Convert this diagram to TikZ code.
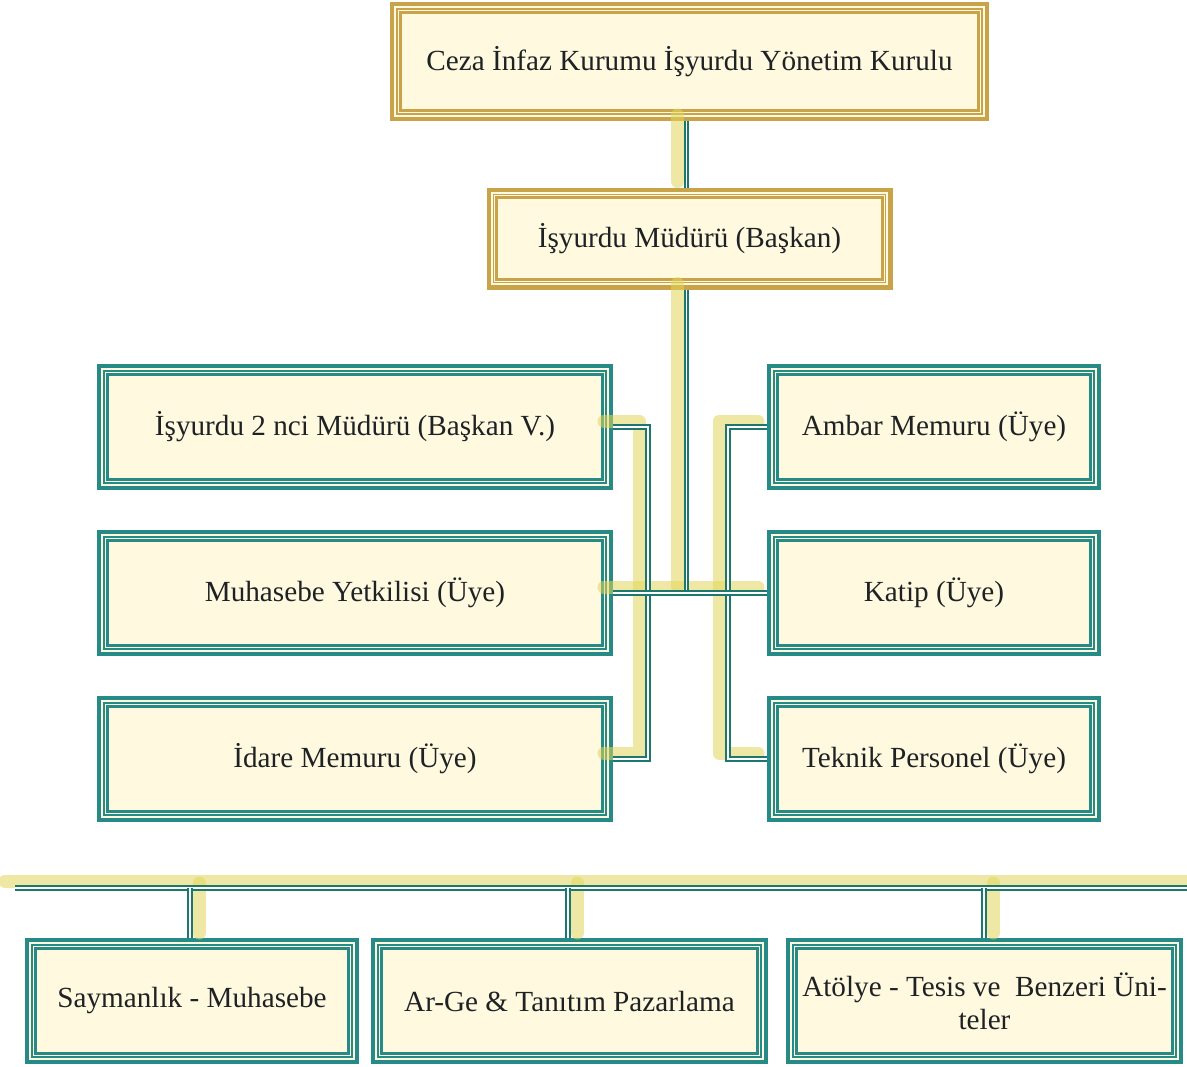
\documentclass[tikz,border=0pt]{standalone}
\usepackage{fontspec}
\setmainfont{Liberation Serif}
\definecolor{boxfill}{RGB}{255,249,224}
\definecolor{tealline}{RGB}{38,138,134}
\definecolor{linkteal}{RGB}{28,120,110}
\definecolor{goldline}{RGB}{201,163,74}
\definecolor{glowyel}{RGB}{226,214,90}
\definecolor{textdark}{RGB}{30,34,36}

\begin{document}
\begin{tikzpicture}[x=0.5pt,y=-0.5pt,node distance=83pt]
  {
    \tikzstyle{box}=[rectangle,fill=boxfill,line width=2.2pt,inner sep=0pt,text=textdark,
      font=\fontsize{14.6}{17.5}\selectfont,align=center]
    \tikzstyle{tealbox}=[box,draw=tealline,path picture={
        \draw[tealline,line width=0.6pt] ([shift={(2.4pt,-2.4pt)}]path picture bounding box.north west)
          rectangle ([shift={(-2.4pt,2.4pt)}]path picture bounding box.south east);
        \draw[tealline,line width=1.4pt] ([shift={(4pt,-4pt)}]path picture bounding box.north west)
          rectangle ([shift={(-4pt,4pt)}]path picture bounding box.south east);}]
    \tikzstyle{goldbox}=[box,draw=goldline,path picture={
        \draw[goldline,line width=0.6pt] ([shift={(2.4pt,-2.4pt)}]path picture bounding box.north west)
          rectangle ([shift={(-2.4pt,2.4pt)}]path picture bounding box.south east);
        \draw[goldline,line width=1.4pt] ([shift={(4pt,-4pt)}]path picture bounding box.north west)
          rectangle ([shift={(-4pt,4pt)}]path picture bounding box.south east);}]
    \tikzstyle{leftbox}=[tealbox,minimum width=255.8pt,minimum height=60.8pt]
    \tikzstyle{rightbox}=[tealbox,minimum width=164.8pt,minimum height=60.8pt]
    \tikzstyle{link}=[draw=linkteal,double=white,line width=0.95pt,double distance=0.8pt]
    \tikzstyle{glowline}=[draw=glowyel,opacity=0.55,line width=6.5pt,line cap=round,line join=round]

    \useasboundingbox (0,0) rectangle (1187,1066);

    % top of the chart
    \node [goldbox,minimum width=297.3pt,minimum height=57.3pt] (kurul) at (689.5,61.5)
      {Ceza İnfaz Kurumu İşyurdu Yönetim Kurulu};
    \node [goldbox,minimum width=200.8pt,minimum height=48.8pt] (mudur) [below of=kurul,yshift=-5.5pt]
      {İşyurdu Müdürü (Başkan)};

    % members
    \node [leftbox] (muhasebe) at (355,593) {Muhasebe Yetkilisi (Üye)};
    \node [leftbox] (yardimci) [above of=muhasebe] {İşyurdu 2 nci Müdürü (Başkan V.)};
    \node [leftbox] (idare) [below of=muhasebe] {İdare Memuru (Üye)};
    \node [rightbox] (katip) at (934,593) {Katip (Üye)};
    \node [rightbox] (ambar) [above of=katip] {Ambar Memuru (Üye)};
    \node [rightbox] (teknik) [below of=katip] {Teknik Personel (Üye)};

    % units
    \node [tealbox,minimum width=164.8pt,minimum height=60.8pt] (sayman) at (192,1001)
      {Saymanlık - Muhasebe};
    \node [tealbox,minimum width=196.3pt,minimum height=60.8pt] (arge) at (569.5,1001)
      {Ar-Ge \& Tanıtım Pazarlama};
    \node [tealbox,minimum width=196.3pt,minimum height=60.8pt] (atolye) at (984.5,1001)
      {Atölye - Tesis ve\ \ Benzeri Üni-\\[-1pt]teler};

    \coordinate (busL) at (15,888);
    \coordinate (busR) at (1187,888);

    % yellow shading under the lines
    \begin{scope}[transform canvas={shift={(-9,-6)}}]
      \draw [glowline] ([xshift=-1.5pt]kurul.south) -- ([xshift=-1.5pt]mudur.north);
      \draw [glowline] ([xshift=-1.5pt]mudur.south) -- ([xshift=-1.5pt]mudur.south |- muhasebe.east);
      \draw [glowline] (muhasebe.east) -- (katip.west);
      \draw [glowline] (yardimci.east) -- ++(35,0) |- (idare.east);
      \draw [glowline] (ambar.west) -- ++(-39,0) |- (teknik.west);
    \end{scope}
    \draw [glowline,transform canvas={shift={(-10,-7)}}] (busL) -- ([xshift=8pt]busR);
    \begin{scope}[transform canvas={shift={(9,-5)}}]
      \draw [glowline] (sayman.north -| 190,0) -- (busL -| 190,0);
      \draw [glowline] (arge.north -| 568,0) -- (busL -| 568,0);
      \draw [glowline] (atolye.north -| 984,0) -- (busL -| 984,0);
    \end{scope}

    % double lines
    \draw [link] ([xshift=-1.5pt]kurul.south) -- ([xshift=-1.5pt]mudur.north);
    \draw [link] ([xshift=-1.5pt]mudur.south) -- ([xshift=-1.5pt]mudur.south |- muhasebe.east);
    \draw [link] (yardimci.east) -- ++(35,0) |- (idare.east);
    \draw [link] (ambar.west) -- ++(-39,0) |- (teknik.west);
    \draw [link] (muhasebe.east) -- (katip.west);
    \draw [link] (busL) -- (busR);
    \draw [link] (sayman.north -| 190,0) -- (busL -| 190,0);
    \draw [link] (arge.north -| 568,0) -- (busL -| 568,0);
    \draw [link] (atolye.north -| 984,0) -- (busL -| 984,0);
  }
\end{tikzpicture}
\end{document}
